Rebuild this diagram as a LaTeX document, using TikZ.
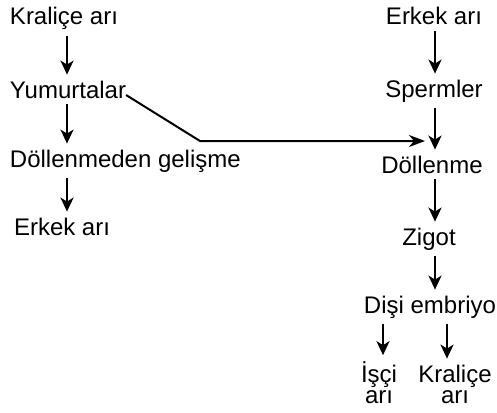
\documentclass[tikz,border=0pt]{standalone}
\usepackage{fontspec}
\setmainfont{Liberation Sans}
\usetikzlibrary{positioning,arrows.meta,calc}

\begin{document}
\begin{tikzpicture}[
  x=0.5pt, y=-0.5pt,
  lbl/.style={inner sep=0pt, outer sep=0pt, font=\fontsize{12}{10.5}\selectfont},
  arrow/.style={-{Stealth[length=7pt,width=6.5pt,inset=2pt]}, line width=1.2pt, shorten <=3pt, shorten >=3pt},
  link/.style={-{Stealth[length=8pt,width=6pt,inset=2.5pt]}, line width=1pt}
]
\useasboundingbox (0,0) rectangle (497,412);

% left column
\node[lbl, anchor=base west] (queen) at (10,25)  {Kraliçe arı};
\node[lbl, anchor=base west] (eggs)  at (10,98)  {Yumurtalar};
\node[lbl, anchor=base west] (parth) at (10,167) {Döllenmeden gelişme};
\node[lbl, anchor=base west] (drone) at (14,235) {Erkek arı};

% right column
\node[lbl, anchor=base] (male)   at (434,25)  {Erkek arı};
\node[lbl, anchor=base] (sperm)  at (434,97)  {Spermler};
\node[lbl, anchor=base] (fert)   at (432,173) {Döllenme};
\node[lbl, anchor=base] (zygote) at (429,245) {Zigot};
\node[lbl, anchor=base] (embryo) at (430,313) {Dişi embriyo};
\node[lbl, anchor=base, align=center] (worker) at (379,403) {İşçi\\arı};
\node[lbl, anchor=base, align=center] (newq)   at (455,403) {Kraliçe\\arı};

\coordinate (lcol) at (67,0);
\coordinate (rcol) at (435,0);
\coordinate (wcol) at (383,0);
\coordinate (qcol) at (447,0);
\coordinate (bend) at (200,141);
\coordinate (meet) at (425,141);

\draw[arrow] (queen.south -| lcol) -- (eggs.north -| lcol);
\draw[arrow] (eggs.south -| lcol) -- (parth.north -| lcol);
\draw[arrow] (parth.south -| lcol) -- (drone.north -| lcol);

\draw[arrow] (male.south -| rcol) -- (sperm.north -| rcol);
\draw[arrow] (sperm.south -| rcol) -- (fert.north -| rcol);
\draw[arrow] (fert.south -| rcol) -- (zygote.north -| rcol);
\draw[arrow] (zygote.south -| rcol) -- (embryo.north -| rcol);
\draw[arrow] (embryo.south -| wcol) -- (worker.north -| wcol);
\draw[arrow] (embryo.south -| qcol) -- (newq.north -| qcol);

\draw[link] ([yshift=1.5pt]eggs.base east) -- (bend) -- (meet);
\end{tikzpicture}
\end{document}
